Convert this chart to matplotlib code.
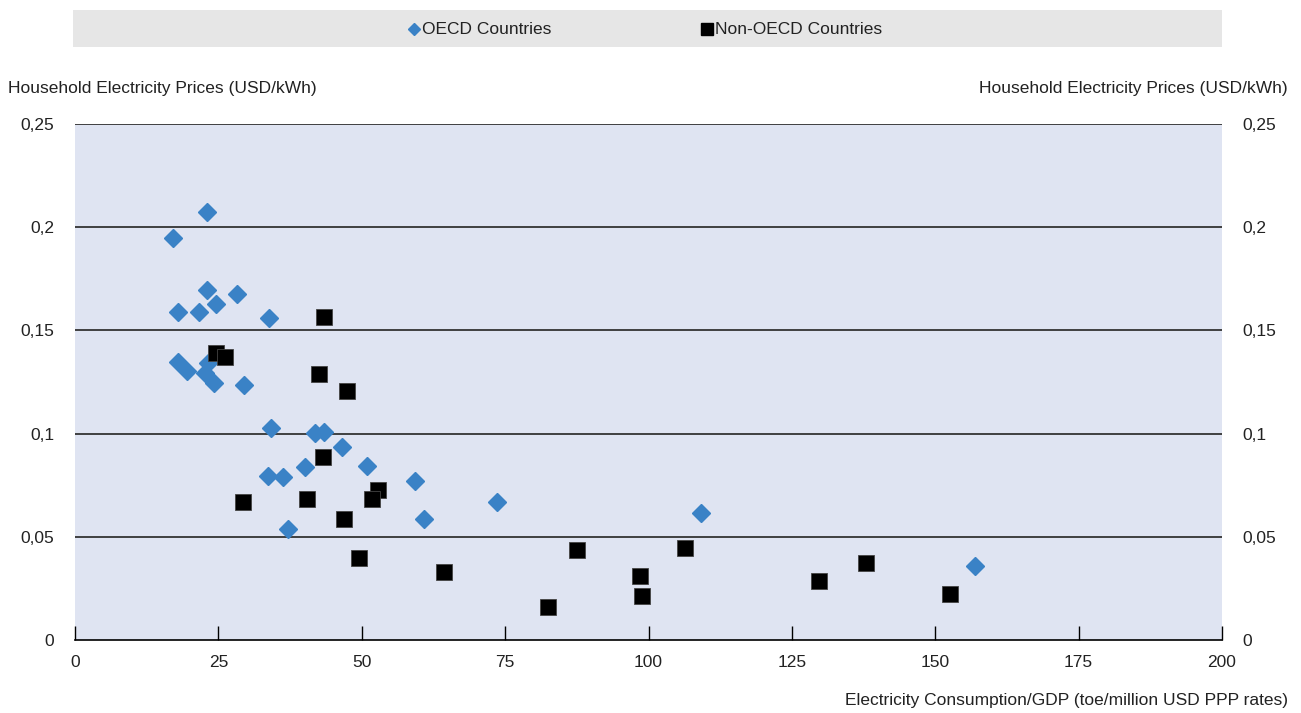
import matplotlib
matplotlib.use("Agg")
import matplotlib.pyplot as plt
from matplotlib.patches import Rectangle
from matplotlib.lines import Line2D

plt.rcParams['font.family'] = ['Liberation Sans', 'DejaVu Sans']

# OECD countries: electricity intensity vs household price
oecd_x = [23.0, 17.1, 23.0, 28.2, 18.0, 21.6, 24.6, 33.8,
          18.0, 19.6, 23.2, 22.7, 24.2, 29.5,
          34.2, 41.8, 43.4, 46.6, 40.1, 33.7, 36.3, 51.0, 59.2, 60.9, 37.1,
          73.6, 109.2, 157.0]
oecd_y = [0.2074, 0.195, 0.1696, 0.1676, 0.159, 0.159, 0.163, 0.156,
          0.1348, 0.1303, 0.134, 0.1292, 0.1247, 0.1235,
          0.1026, 0.1001, 0.1006, 0.0934, 0.0840, 0.0795, 0.0791, 0.0843, 0.0772, 0.0586, 0.0536,
          0.0669, 0.0614, 0.0359]

# Non-OECD countries
non_x = [24.5, 26.2, 43.4, 42.5, 47.5, 43.2, 29.3, 40.4, 46.9, 52.8, 51.8, 49.5,
         87.5, 106.4, 64.3, 98.6, 98.9, 82.5, 129.8, 138.0, 152.6]
non_y = [0.1389, 0.1373, 0.1566, 0.1287, 0.1208, 0.0885, 0.0670, 0.0683, 0.0588, 0.0727, 0.0683, 0.0396,
         0.0435, 0.0444, 0.0329, 0.0312, 0.0215, 0.0158, 0.0286, 0.0373, 0.0223]

x_ticks = [0, 25, 50, 75, 100, 125, 150, 175, 200]
y_ticks = [0, 0.05, 0.1, 0.15, 0.2, 0.25]
y_labels = ['0', '0,05', '0,1', '0,15', '0,2', '0,25']

blue = '#3a82c6'
txt = '#222222'
fs = 12.5

fig = plt.figure(figsize=(13.01, 7.13), dpi=100)
ax = fig.add_axes([75 / 1301, 73 / 713, 1147 / 1301, 516 / 713])
ax.set_facecolor('#dfe4f2')

ax.plot(oecd_x, oecd_y, linestyle='none', marker='D', markersize=9.3,
        color=blue, markeredgecolor=blue, zorder=3)
ax.plot(non_x, non_y, linestyle='none', marker='s', markersize=12,
        color='black', markeredgecolor='#444444', markeredgewidth=0.6, zorder=4)

ax.set_xlim(0, 200)
ax.set_ylim(0, 0.25)
for s in ['left', 'right', 'top']:
    ax.spines[s].set_visible(False)
ax.spines['bottom'].set_color('black')
ax.spines['bottom'].set_linewidth(1.2)

for yv in y_ticks[1:]:
    ax.axhline(yv, color='#333333', linewidth=1.3, zorder=2)

ax.set_xticks(x_ticks)
ax.set_xticklabels([str(v) for v in x_ticks], fontsize=fs, color=txt)
ax.tick_params(axis='x', direction='in', length=10, width=1, pad=11, color='black')

ax.set_yticks(y_ticks)
ax.set_yticklabels(y_labels, fontsize=fs, color=txt)
ax.tick_params(axis='y', length=0, pad=15, labelright=True, right=False)

fig.text(8 / 1301, 1 - 88 / 713, 'Household Electricity Prices (USD/kWh)',
         fontsize=fs, ha='left', va='center', color=txt)
fig.text(1288 / 1301, 1 - 88 / 713, 'Household Electricity Prices (USD/kWh)',
         fontsize=fs, ha='right', va='center', color=txt)
fig.text(1288 / 1301, 1 - 700 / 713, 'Electricity Consumption/GDP (toe/million USD PPP rates)',
         fontsize=fs, ha='right', va='center', color=txt)

# legend strip across the top
fig.patches.append(Rectangle((73 / 1301, 1 - 47 / 713), 1149 / 1301, 37 / 713,
                             transform=fig.transFigure, facecolor='#e6e6e6',
                             edgecolor='none', zorder=0))
fig.add_artist(Line2D([414 / 1301], [1 - 29 / 713], marker='D', markersize=6.5,
                      color=blue, linestyle='none', transform=fig.transFigure))
fig.text(422 / 1301, 1 - 29 / 713, 'OECD Countries', fontsize=fs,
         ha='left', va='center', color=txt)
fig.add_artist(Line2D([707 / 1301], [1 - 29 / 713], marker='s', markersize=8,
                      color='black', linestyle='none', transform=fig.transFigure))
fig.text(715 / 1301, 1 - 29 / 713, 'Non-OECD Countries', fontsize=fs,
         ha='left', va='center', color=txt)

fig.savefig('out.png', dpi=100)
